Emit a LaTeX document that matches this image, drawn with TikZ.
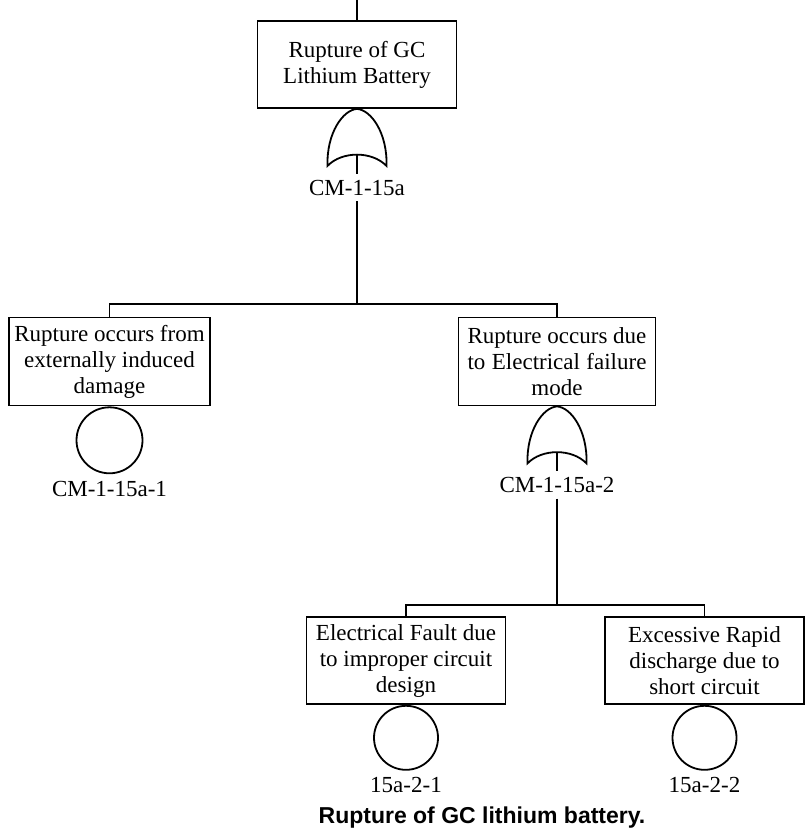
\documentclass[tikz,border=0pt]{standalone}
\usepackage{fontspec}
\usepackage{calc}
\setmainfont{Liberation Serif}
\newfontfamily\capfont{Liberation Sans}
\begin{document}
\begin{tikzpicture}[x=1pt,y=-1pt,line width=1.8pt,
  box/.style={draw, minimum width=199pt, minimum height=87pt, inner sep=0pt, align=center,
              font=\fontsize{23}{26}\selectfont},
  gl/.style={inner xsep=0pt, inner ysep=5pt, font=\fontsize{23}{26}\selectfont},
  el/.style={inner sep=0pt, anchor=north, font=\fontsize{23}{26}\selectfont},
  evt/.style={draw, circle, inner sep=0pt, minimum size=#1, anchor=north},
  orgate/.pic={
    \draw (-29.5,57) .. controls (-30.5,24) and (-14,1) .. (0,0)
          .. controls (14,1) and (30.5,24) .. (29.5,57)
          .. controls (15,42) and (-15,42) .. cycle;
    \coordinate (-apex) at (0,46);
  }]
\useasboundingbox (0,0) rectangle (807,834);

% top event
\coordinate (t0) at (357,0);
\node[box] (top) at (357,64.5) {Rupture of GC\\Lithium Battery};
\draw (t0) -- (top.north);
\pic (g1) at (top.south) {orgate};
\node[gl] (l1) at (357,187.5) {CM-1-15a};
\draw (g1-apex) -- (l1.north);
\coordinate (j1) at (357,304);
\draw (l1.south) -- (j1);

% second level
\node[box, minimum width=201pt, minimum height=88pt] (ext) at (109.5,361.5)
  {Rupture occurs from\\externally induced\\damage};
\node[box, minimum width=197pt, minimum height=88pt] (elec) at (557,361.5)
  {Rupture occurs due\\\makebox[\widthof{Rupture occurs due}][s]{to Electrical failure}\\mode};
\draw (ext.north) -- (ext.north |- j1) -- (elec.north |- j1) -- (elec.north);

\node[evt=66pt] (c1) at (ext.south) {};
\node[el] (c1l) at ([yshift=-6pt]c1.south) {CM-1-15a-1};

\pic (g2) at (elec.south) {orgate};
\node[gl] (l2) at (557,485) {CM-1-15a-2};
\draw (g2-apex) -- (l2.north);
\coordinate (j2) at (557,605);
\draw (l2.south) -- (j2);

% third level
\node[box] (fault) at (406,660.5) {Electrical Fault due\\to improper circuit\\design};
\node[box] (disc) at (704.5,660.5) {Excessive Rapid\\discharge due to\\short circuit};
\draw (fault.north) -- (fault.north |- j2) -- (disc.north |- j2) -- (disc.north);

\node[evt=64pt] (c2) at (fault.south) {};
\node[el] (c2l) at ([yshift=-6pt]c2.south) {15a-2-1};
\node[evt=64pt] (c3) at (disc.south) {};
\node[el] (c3l) at ([yshift=-6pt]c3.south) {15a-2-2};

% caption
\node[font=\capfont\bfseries\fontsize{23}{26}\selectfont] (cap) at (482,818) {Rupture of GC lithium battery.};
\end{tikzpicture}
\end{document}
